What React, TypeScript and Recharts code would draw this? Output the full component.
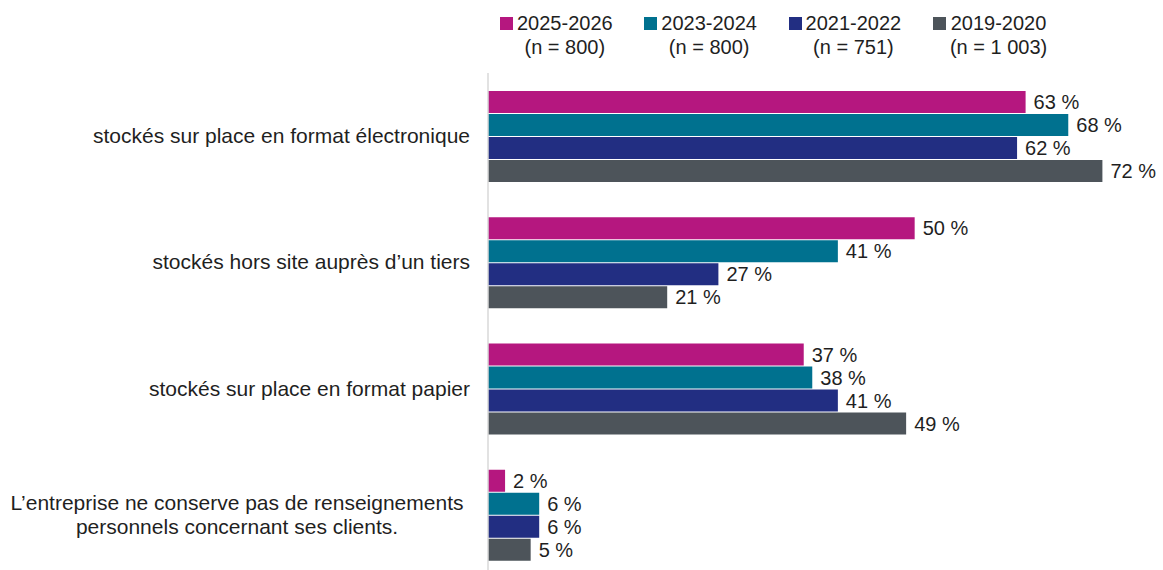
import React from 'react';
import { BarChart, Bar, XAxis, YAxis, LabelList } from 'recharts';

const categories = [
  'stockés sur place en format électronique',
  'stockés hors site auprès d’un tiers',
  'stockés sur place en format papier',
  'L’entreprise ne conserve pas de renseignements\npersonnels concernant ses clients.',
];

const values2025 = [63, 50, 37, 2];
const values2023 = [68, 41, 38, 6];
const values2021 = [62, 27, 41, 6];
const values2019 = [72, 21, 49, 5];

const seriesKeys = ['s2025', 's2023', 's2021', 's2019'];
const seriesNames = ['2025-2026', '2023-2024', '2021-2022', '2019-2020'];
const sampleSizes = ['(n = 800)', '(n = 800)', '(n = 751)', '(n = 1 003)'];
const seriesColors = ['#B5177F', '#00718F', '#222E82', '#4D545A'];
const seriesValues = [values2025, values2023, values2021, values2019];

const data = categories.map((name, i) => {
  const row: Record<string, string | number> = { name };
  seriesKeys.forEach((k, j) => {
    row[k] = seriesValues[j][i];
  });
  return row;
});

const FONT = "'Liberation Sans', Arial, Helvetica, sans-serif";
const TEXT_COLOR = '#1f1f1f';

const CategoryTick = (props: any) => {
  const { x, y, payload } = props;
  const lines = String(payload.value).split('\n');
  if (lines.length === 1) {
    return (
      <text x={x} y={y + 7} textAnchor="end" fontSize={21} fill={TEXT_COLOR} fontFamily={FONT}>
        {lines[0]}
      </text>
    );
  }
  const cx = (x + 4) / 2;
  const lh = 23.5;
  const first = y + 7 - ((lines.length - 1) * lh) / 2;
  return (
    <text textAnchor="middle" fontSize={21} fill={TEXT_COLOR} fontFamily={FONT}>
      {lines.map((l, i) => (
        <tspan key={i} x={cx} y={first + i * lh}>
          {l}
        </tspan>
      ))}
    </text>
  );
};

const LegendBox = () => (
  <div style={{ position: 'absolute', left: 500, top: 11, display: 'flex', fontFamily: FONT, fontSize: 20, lineHeight: '24px', color: TEXT_COLOR }}>
    {seriesNames.map((n, i) => (
      <div key={n} style={{ width: 144.3, position: 'relative', display: 'flex' }}>
        <div style={{ width: 13, height: 13, background: seriesColors[i], marginTop: 6, marginRight: 4, flex: 'none' }} />
        <div style={{ display: 'flex', flexDirection: 'column', alignItems: 'center', whiteSpace: 'nowrap' }}>
          <span>{n}</span>
          <span>{sampleSizes[i]}</span>
        </div>
      </div>
    ))}
  </div>
);

export default function App() {
  return (
    <div style={{ position: 'fixed', left: 0, top: 0, width: 1163, height: 570, overflow: 'hidden', background: '#fff' }}>
      <LegendBox />
      <div style={{ position: 'absolute', left: 0, top: 0 }}>
        <BarChart
          width={1163}
          height={600}
          data={data}
          layout="vertical"
          margin={{ top: 73, right: 35, bottom: 22, left: 0 }}
          barSize={22}
          barGap={1}
        >
          <XAxis type="number" domain={[0, 75]} hide />
          <YAxis
            type="category"
            dataKey="name"
            width={488}
            axisLine={{ stroke: '#d9d9d9', strokeWidth: 1.5 }}
            tickLine={false}
            tickSize={8}
            tickMargin={10}
            tick={<CategoryTick />}
            interval={0}
          />
          {seriesKeys.map((k, i) => (
            <Bar key={k} dataKey={k} name={seriesNames[i]} fill={seriesColors[i]} isAnimationActive={false}>
              <LabelList
                dataKey={k}
                position="right"
                offset={8}
                formatter={(v: any) => `${v} %`}
                fill={TEXT_COLOR}
                fontSize={20}
                fontFamily={FONT}
              />
            </Bar>
          ))}
        </BarChart>
      </div>
    </div>
  );
}
